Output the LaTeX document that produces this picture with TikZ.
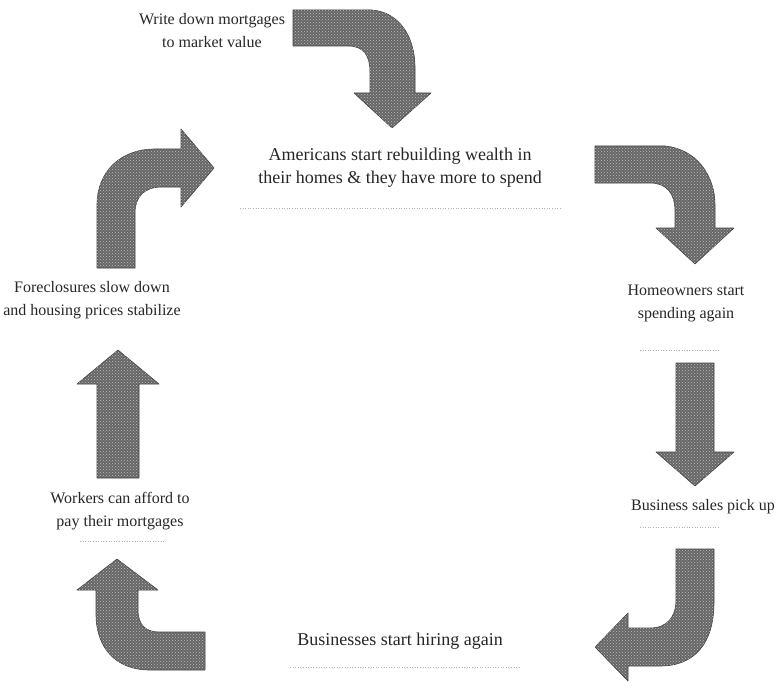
\documentclass[tikz,border=0pt]{standalone}
\usepackage{fontspec}
\setmainfont{Liberation Serif}
\usetikzlibrary{patterns}
\begin{document}
\begin{tikzpicture}[x=1pt,y=-1pt,
  bentarrow/.style={fill=black!60,draw=black!75,line width=0.6pt,line join=round,
    postaction={pattern=crosshatch dots,pattern color=white!75!black}},
  lbl/.style={font=\fontsize{16}{23}\selectfont,align=center,inner sep=0pt,text=black!85},
  biglbl/.style={lbl,font=\fontsize{18}{23}\selectfont},
  faint/.style={draw=black!30,dotted,line width=0.6pt}]
\useasboundingbox (0,0) rectangle (783,687);
% texts
\node[lbl] (t1) at (212,31) {Write down mortgages\\to market value};
\node[biglbl] (t2) at (400,168) {Americans start rebuilding wealth in\\their homes \& they have more to spend};
\node[lbl] (t3) at (92,300) {Foreclosures slow down\\and housing prices stabilize};
\node[lbl] (t4) at (686,303) {Homeowners start\\spending again};
\node[lbl] (t5) at (120,511) {Workers can afford to\\pay their mortgages};
\node[lbl] (t6) at (703,507) {Business sales pick up};
\node[biglbl] (t7) at (400,641) {Businesses start hiring again};
% faint rules
\draw[faint] (240,208) -- (560,208);
\draw[faint] (640,350) -- (720,350);
\draw[faint] (640,527) -- (720,527);
\draw[faint] (80,541) -- (165,541);
\draw[faint] (290,667) -- (520,667);
% arrow A: right then down
\path[bentarrow] (293,10) -- (372,10) .. controls (398,12) and (415,35) .. (415,68)
  -- (415,93) -- (431,93) -- (392,128) -- (354,93) -- (370,93) -- (370,72)
  .. controls (370,56) and (364,46) .. (348,46) -- (293,46) -- cycle;
% arrow B: up then right
\path[bentarrow] (97,268) -- (97,205) .. controls (97,172) and (120,149) .. (155,149)
  -- (181,149) -- (181,129) -- (214,168) -- (181,207) -- (181,187) -- (162,187)
  .. controls (144,187) and (135,197) .. (135,213) -- (135,268) -- cycle;
% arrow C: right then down
\path[bentarrow] (595,146) -- (665,146) .. controls (696,149) and (715,175) .. (715,205)
  -- (715,228) -- (734,228) -- (695,264) -- (656,228) -- (675,228) -- (675,211)
  .. controls (675,194) and (667,183) .. (650,183) -- (595,183) -- cycle;
% arrow D: down
\path[bentarrow] (676,363) -- (714,363) -- (714,452) -- (734,452) -- (695,486)
  -- (656,452) -- (676,452) -- cycle;
% arrow E: up
\path[bentarrow] (97,478) -- (97,384) -- (77,384) -- (118,350) -- (159,384)
  -- (139,384) -- (139,478) -- cycle;
% arrow F: down then left
\path[bentarrow] (676,549) -- (714,549) -- (714,602) .. controls (714,643) and (695,666) .. (660,666)
  -- (628,666) -- (628,681) -- (595,647) -- (628,613) -- (628,628) -- (650,628)
  .. controls (667,628) and (676,617) .. (676,600) -- cycle;
% arrow G: left then up
\path[bentarrow] (205,670) -- (150,670) .. controls (115,670) and (96,647) .. (96,614)
  -- (96,590) -- (77,590) -- (117,559) -- (158,590) -- (138,590) -- (138,610)
  .. controls (138,625) and (146,632) .. (159,632) -- (205,632) -- cycle;
\end{tikzpicture}
\end{document}
